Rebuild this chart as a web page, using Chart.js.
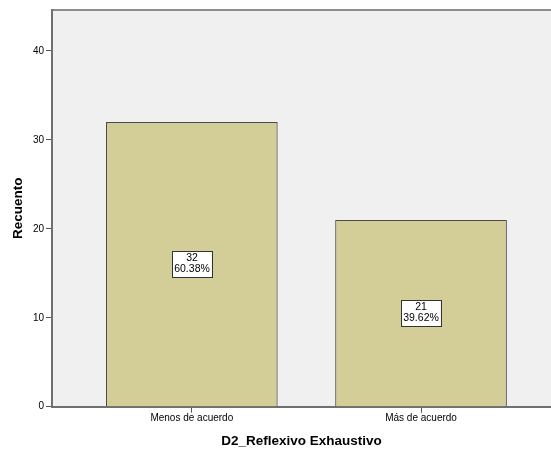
<!DOCTYPE html>
<html>
<head>
<meta charset="utf-8">
<script src="https://cdn.jsdelivr.net/npm/chart.js@4.4.1/dist/chart.umd.min.js"></script>
<style>
  html, body { margin: 0; padding: 0; background: #fff; }
  #wrap { width: 551px; height: 450px; }
</style>
</head>
<body>
<div id="wrap"><canvas id="chart" width="551" height="450"></canvas></div>
<script>
// datos
const categories = ['Menos de acuerdo', 'Más de acuerdo'];
const counts = [32, 21];
const percents = ['60.38%', '39.62%'];
const yTicks = [0, 10, 20, 30, 40];

const FONT = '"Liberation Sans", Arial, sans-serif';

// fondo del área y borde superior
const plotBg = {
  id: 'plotBg',
  beforeDraw(chart) {
    const { ctx, chartArea: a } = chart;
    ctx.save();
    ctx.fillStyle = '#f0f0f0';
    ctx.fillRect(a.left, a.top, a.right - a.left, a.bottom - a.top);
    ctx.strokeStyle = '#8c8c8c';
    ctx.lineWidth = 2;
    ctx.beginPath();
    ctx.moveTo(a.left, a.top);
    ctx.lineTo(a.right, a.top);
    ctx.stroke();
    ctx.restore();
  }
};

// etiquetas con recuento y porcentaje
const boxLabels = {
  id: 'boxLabels',
  afterDatasetsDraw(chart) {
    const { ctx } = chart;
    const meta = chart.getDatasetMeta(0);
    ctx.save();
    ctx.font = '10.5px ' + FONT;
    ctx.textAlign = 'center';
    ctx.textBaseline = 'middle';
    meta.data.forEach((bar, i) => {
      const cx = Math.round(bar.x);
      const cy = Math.round((bar.y + bar.base) / 2);
      const lines = [String(counts[i]), percents[i]];
      const w = Math.max(...lines.map(t => ctx.measureText(t).width)) + 4;
      const h = 26;
      ctx.fillStyle = '#fff';
      ctx.fillRect(cx - w / 2, cy - h / 2, w, h);
      ctx.strokeStyle = '#333';
      ctx.lineWidth = 1;
      ctx.strokeRect(Math.round(cx - w / 2) + 0.5, cy - h / 2 + 0.5, Math.round(w), h);
      ctx.fillStyle = '#000';
      ctx.fillText(lines[0], cx, cy - 5.5);
      ctx.fillText(lines[1], cx, cy + 5.5);
    });
    ctx.restore();
  }
};

new Chart(document.getElementById('chart'), {
  type: 'bar',
  data: {
    datasets: [{
      data: counts.map((v, i) => ({ x: i, y: v })),
      backgroundColor: '#d3ce97',
      borderColor: '#4a4a4a',
      borderWidth: 1.2,
      categoryPercentage: 1,
      barPercentage: 0.749
    }]
  },
  options: {
    responsive: false,
    animation: false,
    layout: { padding: { top: 10, left: 0, right: 0, bottom: 0 } },
    plugins: {
      legend: { display: false },
      tooltip: { enabled: false }
    },
    scales: {
      x: {
        type: 'linear',
        min: -0.61,
        max: 1.567,
        offset: false,
        afterBuildTicks: scale => { scale.ticks = categories.map((c, i) => ({ value: i })); },
        afterFit: scale => { scale.height = 43.3; },
        grid: { display: true, offset: false, drawOnChartArea: false, drawTicks: true, tickLength: 6, color: '#555' },
        border: { display: true, color: '#707070', width: 2 },
        ticks: {
          padding: 0,
          maxRotation: 0,
          autoSkip: false,
          color: '#000',
          font: { family: FONT, size: 10 },
          callback: v => categories[v]
        },
        title: {
          display: true,
          text: 'D2_Reflexivo Exhaustivo',
          color: '#000',
          font: { family: FONT, size: 13.5, weight: 'bold' },
          padding: { top: 0, bottom: 1 }
        }
      },
      y: {
        min: 0,
        max: 44.6,
        afterBuildTicks: scale => { scale.ticks = yTicks.map(v => ({ value: v })); },
        afterFit: scale => { scale.width = 52; },
        grid: { display: true, drawOnChartArea: false, drawTicks: true, tickLength: 6, color: '#555' },
        border: { display: true, color: '#707070', width: 2 },
        ticks: {
          padding: 2,
          color: '#000',
          font: { family: FONT, size: 10 }
        },
        title: {
          display: true,
          text: 'Recuento',
          color: '#000',
          font: { family: FONT, size: 13.5, weight: 'bold' },
          padding: { top: 10, bottom: 0 }
        }
      }
    }
  },
  plugins: [plotBg, boxLabels]
});
</script>
</body>
</html>
